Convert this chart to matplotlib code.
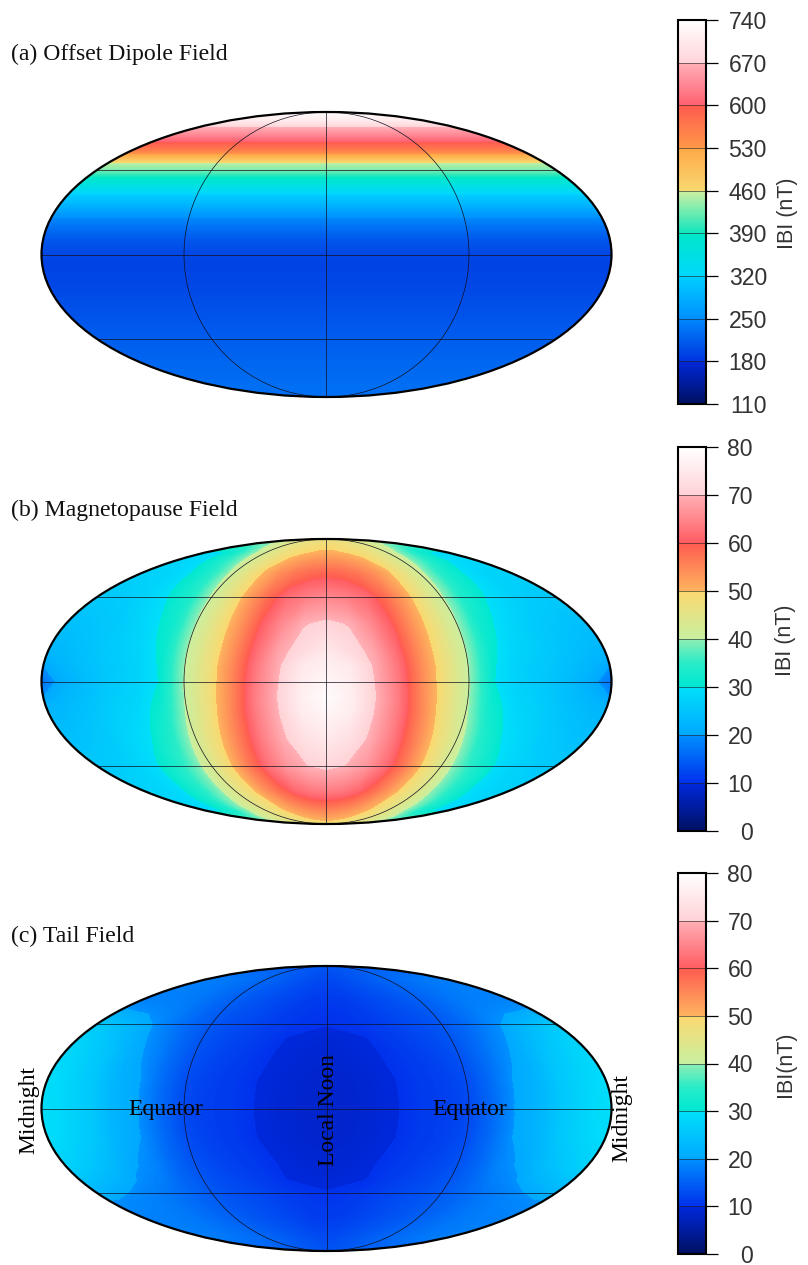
import numpy as np
import matplotlib
matplotlib.use("Agg")
import matplotlib.pyplot as plt
from matplotlib.colors import LinearSegmentedColormap, Normalize
from matplotlib.cm import ScalarMappable

W, H = 808, 1265

titles = ["(a) Offset Dipole Field", "(b) Magnetopause Field", "(c) Tail Field"]
bar_labels = ["IBI (nT)", "IBI (nT)", "IBI(nT)"]
ticks_a = [110, 180, 250, 320, 390, 460, 530, 600, 670, 740]
ticks_bc = [0, 10, 20, 30, 40, 50, 60, 70, 80]

# colours of each colour-bar interval, bottom to top, with a small step at each tick
segments_a = [
    ["#00105e", "#001ca0", "#0028d8"], ["#0034e0", "#0088fc"], ["#0090ff", "#00d0ff"],
    ["#00d8fc", "#00e8c8"], ["#10e6c0", "#d0f0a0"], ["#f8d870", "#ffa848"],
    ["#ff9848", "#ff5a50"], ["#ff6070", "#ffb0b8"], ["#ffd4d8", "#ffffff"],
]
segments_bc = [
    ["#001060", "#001ca0", "#0028dc"], ["#0030ec", "#0090ff"], ["#00a8ff", "#00e0fa"],
    ["#00e8d2", "#28ecc8", "#90eeb4"], ["#c8f0a0", "#fcd870"], ["#fdb45e", "#ff5a50"],
    ["#ff5c62", "#ffb0b6"], ["#ffd2d6", "#ffffff"],
]

# (a) depends on latitude only
lat_a = [90, 80, 74, 68, 63, 58, 54, 49, 46, 42, 37, 32, 25, 19, 14, 8, 0, -5, -15, -30, -45, -60, -75, -90]
val_a = [735, 710, 670, 635, 600, 565, 522, 450, 435, 396, 358, 320, 285, 250, 230, 210, 195, 192, 195, 205, 214, 222, 228, 230]

# (b), (c): tables on |longitude from noon| by latitude
lon_half = [0, 15, 30, 45, 60, 75, 90, 105, 120, 135, 150, 170, 180]
lat_b = [90, 75, 60, 45, 30, 15, 8, 0, -8, -15, -30, -45, -60, -75, -90]
val_b = [
    [46, 46, 46, 46, 46, 46, 46, 46, 46, 46, 46, 46, 46],
    [50.5, 50.3, 49.5, 48.5, 47, 45, 42.5, 39.5, 36, 32.5, 30, 29, 29],
    [58.5, 58, 56.5, 54, 50.5, 46, 41.5, 36, 32, 29.5, 28, 27.5, 27.5],
    [65, 64, 62, 58, 52.5, 46, 40.5, 34, 30.5, 28.5, 27, 26, 26],
    [70.8, 69.7, 65.5, 60, 53, 46.5, 40, 32, 29, 27, 25.5, 24.5, 24],
    [75, 72, 68.8, 62, 54, 46.7, 40, 31, 28, 26.5, 25, 23, 22.5],
    [76.5, 75, 69.5, 63, 54.5, 47, 40, 30.5, 27.5, 26, 24.5, 22, 19.9],
    [78, 76, 70, 63.5, 54.7, 47, 40, 30.2, 27.5, 26, 24, 20.3, 17],
    [79, 76.5, 70.5, 64, 55, 47.3, 40.2, 31, 28, 26.5, 24.5, 22, 19.9],
    [78, 76, 70.2, 64, 55.5, 47.5, 40.5, 32, 28.5, 27, 25, 23, 22.5],
    [75, 73, 69.2, 63.5, 56, 48.5, 42, 34.5, 30, 28, 26, 24.5, 24],
    [71, 69.8, 67.2, 62.5, 56.5, 49.3, 43, 37, 32.5, 29, 27.5, 26, 26],
    [64, 63.5, 61.5, 58, 53.5, 48.5, 44, 39, 34.5, 30.5, 28.5, 27.5, 27.5],
    [55, 54.5, 53.5, 52, 50, 47.5, 45, 42, 38.5, 34, 30.5, 29, 29],
    [47, 47, 47, 47, 47, 47, 47, 47, 47, 47, 47, 47, 47],
]
lat_c = [90, 75, 60, 53, 45, 38, 30, 15, 0, -15, -30, -38, -45, -50, -60, -75, -90]
val_c = [
    [14, 14, 14, 14, 14, 14, 14, 14, 14, 14, 14, 14, 14],
    [12.5, 12.7, 13.2, 13.8, 14.5, 15, 15.6, 16.2, 16.8, 17.2, 17.6, 18, 18],
    [11, 11.2, 11.8, 12.5, 13.2, 14, 14.8, 15.8, 17, 17.8, 18.2, 18.5, 18.5],
    [10.5, 10.7, 11.3, 12, 12.8, 13.5, 14.4, 15.7, 17.2, 18.5, 19.3, 20.1, 20.5],
    [10.1, 10.4, 10.8, 11.5, 12.3, 13, 14, 15.5, 17.5, 19.8, 22, 25, 26],
    [9.4, 9.7, 10.05, 11.1, 11.9, 12.7, 13.8, 15.7, 18.3, 20.6, 23.3, 26.5, 27.5],
    [9.2, 9.4, 9.7, 10.5, 11.5, 12.3, 13.5, 16, 19, 21.3, 24.5, 27.5, 28.5],
    [8.7, 8.9, 9.4, 10, 11, 11.7, 12.8, 16, 20, 22, 25.5, 28.5, 29.2],
    [8.5, 8.8, 9.3, 9.9, 11, 11.5, 12.5, 16, 20.3, 22.5, 26, 29, 29.6],
    [8.7, 8.9, 9.4, 10, 11, 11.7, 12.8, 16, 20, 22, 25.5, 28.5, 29.2],
    [9.2, 9.4, 9.8, 10.7, 11.5, 12.3, 13.5, 15.8, 19, 20.5, 23.5, 26.5, 27.5],
    [9.5, 9.75, 10.05, 11.2, 12, 12.8, 13.9, 15.6, 18, 19.4, 21.5, 24, 25],
    [10.1, 10.4, 11, 11.7, 12.5, 13.2, 14.2, 15.5, 17, 18.2, 19.4, 21.5, 22.5],
    [10.6, 10.9, 11.5, 12.2, 13, 13.7, 14.5, 15.6, 16.9, 17.9, 18.8, 19.5, 19.8],
    [11.2, 11.4, 12, 12.7, 13.4, 14.1, 14.9, 15.8, 16.8, 17.6, 18, 18.3, 18.3],
    [12.7, 12.9, 13.4, 14, 14.6, 15.1, 15.7, 16.2, 16.8, 17.2, 17.6, 18, 18],
    [14, 14, 14, 14, 14, 14, 14, 14, 14, 14, 14, 14, 14],
]

# pixel layout
ell_boxes = [(41, 112, 612, 397), (41, 539, 612, 824), (41, 966, 612, 1251)]
bar_boxes = [(678, 20, 706, 404), (678, 447, 706, 831), (678, 873, 706, 1254)]
title_y = [54, 510, 936]

plt.rcParams["font.family"] = "Liberation Sans"
SERIF = "Liberation Serif"


def make_cmap(segments):
    nodes = []
    n = len(segments)
    for i, seg in enumerate(segments):
        for j, c in enumerate(seg):
            nodes.append(((i + j / (len(seg) - 1)) / n, c))
    return LinearSegmentedColormap.from_list("field", nodes, N=2048)


cmaps = [make_cmap(segments_a), make_cmap(segments_bc), make_cmap(segments_bc)]

fig = plt.figure(figsize=(W / 100, H / 100), dpi=100)
fig.patch.set_facecolor("white")


def rect(b):
    x0, y0, x1, y1 = b
    return [x0 / W, 1 - y1 / H, (x1 - x0) / W, (y1 - y0) / H]


def ftext(x, y, s, **kw):
    fig.text(x / W, 1 - y / H, s, **kw)


def mirrored(lon, table):
    t = np.array(table, dtype=float)
    lons = np.array(lon, dtype=float)
    return np.concatenate([-lons[:0:-1], lons]), np.hstack([t[:, :0:-1], t])


lon_a = np.array([-180.0, 0.0, 180.0])
Z_a = np.tile(np.array(val_a, dtype=float)[:, None], (1, 3))
lon_b, Z_b = mirrored(lon_half, val_b)
lon_c, Z_c = mirrored(lon_half, val_c)
fields = [(lon_a, lat_a, Z_a, ticks_a), (lon_b, lat_b, Z_b, ticks_bc), (lon_c, lat_c, Z_c, ticks_bc)]

for k, (lon, lat, Z, ticks) in enumerate(fields):
    cmap = cmaps[k]
    ax = fig.add_axes(rect(ell_boxes[k]), projection="mollweide")
    norm = Normalize(ticks[0], ticks[-1])
    levels = np.linspace(ticks[0], ticks[-1], 401)
    ax.contourf(np.radians(lon), np.radians(lat), Z, levels=levels, cmap=cmap, norm=norm, antialiased=False)
    ax.set_longitude_grid(90)
    ax.set_latitude_grid(45)
    ax.set_longitude_grid_ends(90)
    ax.grid(True, color="#101020", lw=0.5)
    ax.set_xticklabels([])
    ax.set_yticklabels([])
    ax.spines["geo"].set_linewidth(1.6)

    cax = fig.add_axes(rect(bar_boxes[k]))
    cb = fig.colorbar(ScalarMappable(norm=norm, cmap=cmap), cax=cax)
    cb.set_ticks(ticks)
    cb.outline.set_linewidth(1.5)
    cax.tick_params(length=8.6, width=0.9, labelsize=16.6, labelcolor="#333333")
    right = 767 if k == 0 else 753
    cax.tick_params(pad=(right - 718) * 0.72)
    for t in cax.get_yticklabels():
        t.set_ha("right")
        t.set_va("center_baseline")
    cax.hlines(ticks[1:-1], 0, 1, transform=cax.get_yaxis_transform(), colors="#202020", lw=0.7, alpha=0.6)

    ftext(11, title_y[k], titles[k], family=SERIF, fontsize=17.1, color="#111111", ha="left", va="center")
    ftext(787 if k == 0 else 785, (bar_boxes[k][1] + bar_boxes[k][3]) / 2 + (1 if k < 2 else 1), bar_labels[k],
          fontsize=15.5, color="#333333", rotation=90, ha="center", va="center")

txt = dict(family=SERIF, fontsize=17, color="black", ha="center", va="center")
ftext(29, 1110, "Midnight", rotation=90, **txt)
ftext(622, 1118, "Midnight", rotation=90, **txt)
ftext(166, 1109, "Equator", **txt)
ftext(470, 1109, "Equator", **txt)
ftext(329, 1110, "Local Noon", rotation=90, **txt)

fig.savefig("out.png", dpi=100)
